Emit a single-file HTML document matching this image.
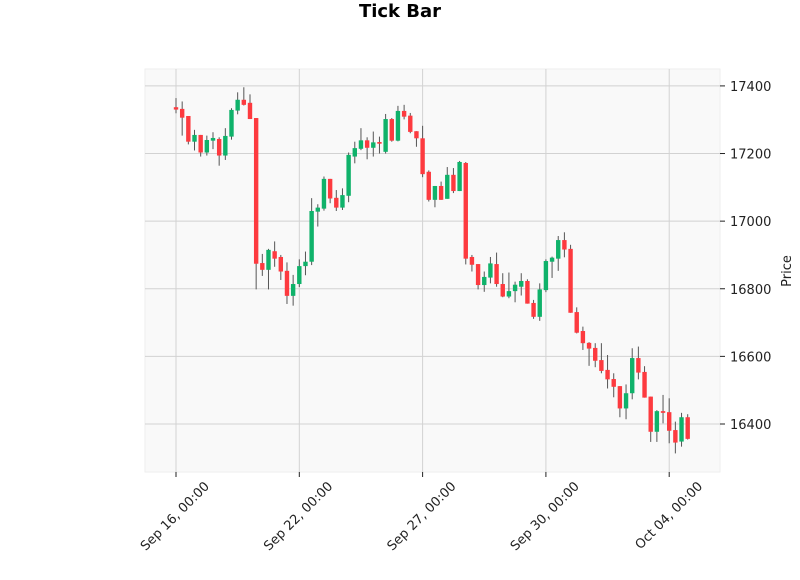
<!DOCTYPE html>
<html><head><meta charset="utf-8"><style>
body{margin:0;background:#fff;}
svg text{font-family:"DejaVu Sans","Liberation Sans",sans-serif;}
</style></head><body>
<svg id="chart" width="800" height="575" xmlns="http://www.w3.org/2000/svg">
<text x="400" y="17" text-anchor="middle" font-size="18" font-weight="bold" fill="#000">Tick Bar</text>
<rect x="145" y="69" width="575" height="403" fill="#f9f9f9" stroke="#eeeeee"/>
<g id="grid"></g>
<g id="candles"></g>
<g id="axes"></g>
<text x="791" y="271" text-anchor="middle" font-size="13" fill="#222" transform="rotate(-90 791 271)">Price</text>
</svg>
<script>
const opens  = [17337,17332,17311,17235,17255,17203,17238,17243,17194,17250,17327,17359,17350,17305,16876,16856,16911,16894,16853,16779,16814,16867,16880,17028,17037,17125,17069,17040,17075,17191,17214,17239,17217,17234,17205,17302,17238,17326,17312,17266,17245,17146,17063,17104,17066,17137,17089,17172,16894,16873,16811,16833,16873,16814,16777,16793,16806,16823,16758,16717,16796,16880,16889,16944,16918,16731,16675,16640,16625,16589,16560,16533,16512,16446,16491,16595,16554,16481,16377,16438,16435,16382,16348,16420];
const highs  = [17364,17354,17311,17270,17255,17253,17263,17248,17275,17334,17381,17396,17375,17305,16903,16918,16940,16900,16878,16841,16887,16910,17068,17050,17132,17125,17092,17097,17203,17235,17275,17248,17265,17250,17317,17305,17341,17344,17320,17266,17282,17150,17104,17117,17160,17157,17178,17175,16900,16873,16851,16894,16907,16846,16848,16821,16846,16828,16767,16816,16887,16895,16956,16967,16930,16745,16688,16642,16639,16639,16604,16550,16512,16517,16624,16629,16571,16481,16441,16486,16476,16407,16433,16429];
const lows   = [17319,17253,17227,17209,17191,17194,17213,17164,17181,17241,17316,17342,17302,16798,16838,16798,16865,16826,16755,16750,16805,16840,16870,16984,17031,17053,17030,17033,17056,17171,17210,17183,17191,17200,17200,17235,17236,17301,17260,17220,17130,17058,17041,17063,17066,17083,17089,16872,16851,16798,16791,16816,16806,16775,16772,16760,16780,16756,16711,16705,16790,16832,16853,16893,16729,16668,16619,16572,16568,16550,16505,16479,16420,16414,16473,16532,16478,16347,16347,16402,16343,16313,16333,16354];
const closes = [17330,17306,17235,17255,17203,17240,17246,17194,17252,17329,17359,17344,17302,16874,16856,16915,16889,16851,16779,16814,16867,16880,17030,17040,17125,17067,17040,17077,17196,17216,17239,17217,17233,17229,17302,17238,17326,17309,17264,17245,17139,17063,17104,17063,17137,17089,17175,16889,16871,16811,16835,16875,16814,16777,16793,16812,16823,16756,16717,16798,16882,16892,16944,16916,16729,16670,16639,16623,16587,16557,16532,16510,16446,16491,16595,16552,16478,16377,16438,16433,16380,16345,16420,16356];
const yTicks = [16400,16600,16800,17000,17200,17400];
const xTickIdx = [0,20,40,60,80];
const xTickLabels = ["Sep 16, 00:00","Sep 22, 00:00","Sep 27, 00:00","Sep 30, 00:00","Oct 04, 00:00"];

const NS="http://www.w3.org/2000/svg";
const X0=145,X1=720,Y0=69,Y1=472;
const xMin=-5.03,xMax=88.24,yMin=16258,yMax=17450;
function xs(i){return X0+(i-xMin)/(xMax-xMin)*(X1-X0);}
function ys(v){return Y1-(v-yMin)/(yMax-yMin)*(Y1-Y0);}
function mk(tag,attrs,parent){const e=document.createElementNS(NS,tag);for(const k in attrs)e.setAttribute(k,attrs[k]);parent.appendChild(e);return e;}
const grid=document.getElementById('grid'),cg=document.getElementById('candles'),ax=document.getElementById('axes');

yTicks.forEach(v=>{
  const y=ys(v);
  const g=mk('line',{x1:X0,x2:X1,y1:y,y2:y,stroke:'#d2d2d2','stroke-width':1},grid);
  
  
  const t=mk('line',{x1:X1,x2:X1+5,y1:y,y2:y,stroke:'#222','stroke-width':1},ax);
  
  
  const l=mk('text',{x:X1+10,y:y+5,'font-size':13,fill:'#222'},ax);
  l.textContent=v;
  
  
});
xTickIdx.forEach((idx,k)=>{
  const x=xs(idx);
  const g=mk('line',{x1:x,x2:x,y1:Y0,y2:Y1,stroke:'#d2d2d2','stroke-width':1},grid);
  
  
  const t=mk('line',{x1:x,x2:x,y1:Y1,y2:Y1+5,stroke:'#222','stroke-width':1},ax);
  
  
  const lx=x+34,ly=487;
  const l=mk('text',{x:lx,y:ly,'font-size':13,fill:'#222','text-anchor':'end',transform:`rotate(-45 ${lx} ${ly})`},ax);
  l.textContent=xTickLabels[k];
  
  
});
opens.forEach((o,i)=>{
  const c=closes[i],x=xs(i),up=c>=o;
  const col=up?'#0fb26a':'#fd3a3f';
  const w=mk('line',{x1:x,x2:x,y1:ys(highs[i]),y2:ys(lows[i]),stroke:'#555','stroke-width':1},cg);
  
  
  const top=ys(Math.max(o,c)),bot=ys(Math.min(o,c));
  const b=mk('rect',{x:x-2.2,y:top,width:4.4,height:Math.max(bot-top,1.5),fill:col},cg);
  
  
});
</script>
</body></html>
